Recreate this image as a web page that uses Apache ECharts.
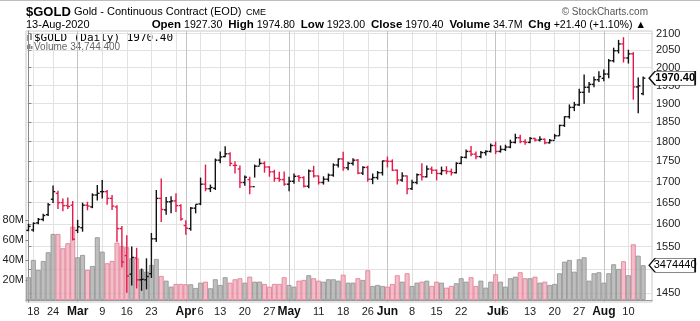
<!DOCTYPE html>
<html>
<head>
<meta charset="utf-8">
<script src="https://cdn.jsdelivr.net/npm/echarts@6.0.0/dist/echarts.min.js"></script>
<style>
html,body{margin:0;padding:0;background:#fff;}
#chart{width:700px;height:321px;}
</style>
</head>
<body>
<div id="chart"></div>
<script>
// ---------- data ----------
const dates = [
 '2/14','2/18','2/19','2/20','2/21','2/24','2/25','2/26','2/27','2/28',
 '3/2','3/3','3/4','3/5','3/6','3/9','3/10','3/11','3/12','3/13',
 '3/16','3/17','3/18','3/19','3/20','3/23','3/24','3/25','3/26','3/27','3/30','3/31',
 '4/1','4/2','4/3','4/6','4/7','4/8','4/9','4/13','4/14','4/15','4/16','4/17',
 '4/20','4/21','4/22','4/23','4/24','4/27','4/28','4/29','4/30',
 '5/1','5/4','5/5','5/6','5/7','5/8','5/11','5/12','5/13','5/14','5/15',
 '5/18','5/19','5/20','5/21','5/22','5/26','5/27','5/28','5/29',
 '6/1','6/2','6/3','6/4','6/5','6/8','6/9','6/10','6/11','6/12',
 '6/15','6/16','6/17','6/18','6/19','6/22','6/23','6/24','6/25','6/26','6/29','6/30',
 '7/1','7/2','7/6','7/7','7/8','7/9','7/10','7/13','7/14','7/15','7/16','7/17',
 '7/20','7/21','7/22','7/23','7/24','7/27','7/28','7/29','7/30','7/31',
 '8/3','8/4','8/5','8/6','8/7','8/10','8/11','8/12','8/13'
];
const opens = [
 1586,1587,1603,1611,1622,1658,1672,1650,1643,1644,
 1586,1592,1644,1640,1668,1676,1676,1660,1640,1590,
 1530,1490,1525,1478,1478,1491,1567,1660,1633,1652,1654,1643,
 1597,1590,1637,1647,1694,1683,1684,1753,1762,1769,1740,1731,
 1698,1705,1688,1738,1745,1736,1724,1708,1705,
 1694,1701,1713,1710,1689,1726,1714,1698,1706,1716,1741,
 1756,1734,1745,1753,1721,1735,1706,1710,1722,
 1751,1750,1728,1704,1714,1683,1698,1717,1712,1731,
 1728,1720,1727,1725,1722,1745,1760,1775,1768,1762,1772,1775,
 1790,1775,1780,1786,1798,1810,1800,1798,1808,1804,1806,1797,
 1803,1815,1842,1865,1890,1897,1931,1945,1953,1966,
 1970,1982,2020,2049,2069,2028,2040,1946,1927.3
];
const highs = [
 1601,1604,1614,1624,1649,1691,1678,1660,1662,1654,
 1610,1650,1652,1672,1692,1704,1680,1668,1644,1596,
 1575,1550,1547,1502,1524,1580,1680,1708,1663,1665,1672,1646,
 1609,1640,1646,1710,1742,1693,1757,1775,1788,1773,1750,1740,
 1715,1712,1742,1757,1750,1738,1729,1724,1725,
 1712,1720,1716,1713,1730,1739,1715,1713,1720,1745,1757,
 1774,1749,1758,1756,1738,1739,1720,1726,1752,
 1762,1755,1730,1723,1715,1705,1720,1745,1740,1737,
 1730,1737,1738,1732,1748,1763,1780,1789,1775,1776,1778,1795,
 1800,1790,1792,1805,1820,1818,1806,1812,1810,1814,1808,1807,
 1820,1844,1866,1898,1905,1941,1981,1960,1975,1990,
 1995,2025,2058,2081,2089,2052,2045,1972,1974.8
];
const lows = [
 1584,1583,1600,1607,1619,1649,1635,1630,1635,1563,
 1580,1583,1632,1637,1655,1660,1645,1633,1560,1504,
 1451,1466,1460,1455,1458,1482,1560,1605,1622,1625,1628,1608,
 1576,1585,1625,1644,1677,1675,1680,1745,1760,1738,1720,1685,
 1690,1670,1710,1740,1722,1712,1700,1700,1690,
 1677,1695,1700,1686,1684,1710,1693,1693,1700,1712,1735,
 1727,1728,1740,1718,1716,1700,1694,1705,1715,
 1735,1726,1693,1700,1670,1680,1694,1703,1710,1719,
 1703,1716,1718,1715,1720,1743,1757,1763,1755,1758,1765,1772,
 1768,1772,1776,1783,1795,1796,1792,1796,1800,1800,1793,1795,
 1806,1815,1838,1860,1880,1894,1900,1930,1945,1960,
 1962,1970,2015,2041,2015,2012,1911,1874,1923
];
const closes = [
 1595,1602,1611,1620,1645,1676,1650,1643,1641,1566,
 1594,1644,1642,1668,1672,1676,1660,1642,1590,1516,
 1486,1526,1478,1479,1485,1567,1660,1634,1652,1654,1643,1612,
 1591,1637,1646,1694,1683,1686,1753,1761,1769,1745,1740,1698,
 1711,1688,1738,1745,1736,1724,1708,1705,1694,
 1701,1713,1710,1689,1726,1714,1698,1706,1716,1741,1756,
 1734,1745,1753,1721,1735,1706,1710,1722,1751,
 1750,1728,1704,1714,1683,1698,1717,1712,1731,1728,
 1720,1727,1725,1722,1745,1760,1775,1768,1762,1772,1775,1790,
 1775,1780,1786,1798,1810,1800,1798,1808,1804,1806,1797,1803,
 1815,1842,1865,1890,1897,1931,1945,1953,1966,1975,
 1982,2020,2049,2069,2028,2040,1946,1949,1970.4
];
// volume in millions of contracts
const volumes = [
 22.7,40,30,39,47.7,66,66,51.7,56.7,73.3,
 42.7,45,30,34,62.7,48.3,36.7,39,57.3,54,
 52.7,41.7,41.7,30.7,28.3,35,41,24,19.3,13.3,16,16,
 15.7,15.7,12,17.3,18.3,11.7,20.7,15,22.7,17.3,20.7,21.7,
 17.3,23.3,18.3,18.3,16,13.3,16,16,22.7,
 15,13.3,19.3,20,24.7,21.7,19.3,18.3,20.7,20.7,19.3,
 25.3,17.3,17.3,21.7,20,29.7,14,15,14,
 13.3,16,24.7,18.3,26.7,14,17.3,18.3,19.3,14,
 18.3,17.3,12.3,14,16.7,21.7,18.3,22.7,14,19.3,12.3,18.3,
 25.7,18.3,13.3,21.7,23.3,27.7,21.7,21.7,23.3,17.3,18.3,15,
 16,26.7,38.3,40,28.3,40.7,42.7,19.3,26.7,27.7,
 17.3,26.7,35.7,31,38.7,24.7,55.7,44.3,34.7444
];
const priceTicks = [1450,1500,1550,1600,1650,1700,1750,1800,1850,1900,1950,2000,2050,2100];
const volumeTicks = [20,40,60,80];
const weekGridDates = ['2/18','2/24','3/2','3/9','3/16','3/23','3/30','4/6','4/13','4/20','4/27','5/4','5/11','5/18','5/26','6/1','6/8','6/15','6/22','6/29','7/6','7/13','7/20','7/27','8/3','8/10'];
const monthGridDates = ['3/2','4/1','5/1','6/1','7/1','8/3'];
const xLabelDates = ['2/18','2/24','3/2','3/9','3/16','3/23','4/1','4/6','4/13','4/20','4/27','5/1','5/11','5/18','5/26','6/1','6/8','6/15','6/22','7/1','7/6','7/13','7/20','7/27','8/3','8/10'];
const xLabelTexts = ['18','24','Mar','9','16','23','Apr','6','13','20','27','May','11','18','26','Jun','8','15','22','Jul','6','13','20','27','Aug','10'];
const monthNames = ['Mar','Apr','May','Jun','Jul','Aug'];
const lastClose = 1970.40;
const lastVolume = 34744400;

// ---------- build ----------
const FONT = '"Liberation Sans", Arial, sans-serif';
const idx = d => dates.indexOf(d);
const isUp = closes.map((c, i) => i === 0 ? true : c >= closes[i - 1]);
const ohlc = dates.map((d, i) => [i, Math.log(opens[i]), Math.log(highs[i]), Math.log(lows[i]), Math.log(closes[i]), isUp[i] ? 1 : 0]);
const volData = dates.map((d, i) => ({
  value: [i, volumes[i]],
  itemStyle: isUp[i]
    ? { color: 'rgba(172,172,172,0.78)', borderColor: '#8f8f8f', borderWidth: 0.8 }
    : { color: 'rgba(238,165,180,0.72)', borderColor: '#e07a90', borderWidth: 0.8 }
}));
const labelMap = {};
xLabelDates.forEach((d, k) => { labelMap[idx(d)] = xLabelTexts[k]; });
const weekIdx = weekGridDates.map(idx);
const monthIdx = monthGridDates.map(idx);
const xLabelIdx = xLabelDates.map(idx);
const X_MIN = -0.5, X_MAX = dates.length + 0.8;
const P_MIN = Math.log(1432), P_MAX = Math.log(2107.5);
const TAG = 'path://M0,7L6,0L46,0L46,14L6,14Z';

const chart = echarts.init(document.getElementById('chart'), null, { renderer: 'canvas' });
chart.setOption({
  animation: false,
  backgroundColor: '#fff',
  grid: { left: 26, right: 48, top: 31, bottom: 19, show: true, borderColor: '#c8c8c8', borderWidth: 1, outerBoundsMode: 'none' },
  xAxis: [
    {
      type: 'value', min: X_MIN, max: X_MAX, gridIndex: 0,
      axisLine: { show: true, lineStyle: { color: '#9a9a9a' } },
      axisTick: { show: false, customValues: weekIdx },
      splitLine: { show: true, lineStyle: { color: '#e2e2e2', width: 1 } },
      axisLabel: {
        show: true, customValues: xLabelIdx, hideOverlap: false, margin: 4,
        color: '#222', fontSize: 11, fontFamily: FONT,
        formatter: v => { const t = labelMap[Math.round(v)] || ''; return monthNames.includes(t) ? '{m|' + t + '}' : t; },
        rich: { m: { fontWeight: 'bold', fontSize: 12, fontFamily: FONT, color: '#111' } }
      }
    },
    {
      type: 'value', min: X_MIN, max: X_MAX, gridIndex: 0, position: 'bottom',
      axisLine: { show: false }, axisLabel: { show: false },
      axisTick: { show: false, customValues: monthIdx },
      splitLine: { show: true, lineStyle: { color: '#c4c4c4', width: 1 } }
    }
  ],
  yAxis: [
    {
      type: 'value', min: P_MIN, max: P_MAX, position: 'right', gridIndex: 0,
      axisLine: { show: true, lineStyle: { color: '#888' } },
      axisTick: { show: true, length: 3, customValues: priceTicks.map(Math.log), lineStyle: { color: '#888' } },
      splitLine: { show: true, lineStyle: { color: '#e2e2e2' } },
      axisLabel: {
        customValues: priceTicks.map(Math.log), margin: 4, color: '#222', fontSize: 11, fontFamily: FONT,
        formatter: v => String(Math.round(Math.exp(v)))
      }
    },
    {
      type: 'value', min: -2, max: 269, position: 'left', gridIndex: 0,
      axisLine: { show: false },
      axisTick: { show: true, length: 3, inside: false, customValues: volumeTicks, lineStyle: { color: '#888' } },
      splitLine: { show: false },
      axisLabel: {
        customValues: volumeTicks, margin: 2, color: '#222', fontSize: 11, fontFamily: FONT,
        formatter: v => v + 'M'
      }
    }
  ],
  series: [
    {
      type: 'bar', name: 'Volume', xAxisIndex: 0, yAxisIndex: 1,
      barWidth: 4.9, data: volData, z: 2
    },
    {
      type: 'custom', name: '$GOLD', xAxisIndex: 1, yAxisIndex: 0, clip: true, z: 3,
      data: ohlc,
      renderItem: (params, api) => {
        const x = api.value(0);
        const o = api.coord([x, api.value(1)]);
        const h = api.coord([x, api.value(2)]);
        const l = api.coord([x, api.value(3)]);
        const c = api.coord([x, api.value(4)]);
        const col = api.value(5) ? '#111' : '#e3194b';
        const st = { stroke: col, lineWidth: 1.4 };
        return {
          type: 'group',
          children: [
            { type: 'line', shape: { x1: h[0], y1: h[1], x2: l[0], y2: l[1] }, style: st },
            { type: 'line', shape: { x1: o[0] - 2.2, y1: o[1], x2: o[0], y2: o[1] }, style: st },
            { type: 'line', shape: { x1: c[0], y1: c[1], x2: c[0] + 2.2, y2: c[1] }, style: st }
          ]
        };
      }
    },
    {
      type: 'scatter', name: 'lastPrice', xAxisIndex: 1, yAxisIndex: 0, clip: false, z: 10,
      data: [[dates.length - 1, Math.log(lastClose)]],
      symbol: TAG, symbolSize: [46, 14], symbolOffset: [29, 0],
      itemStyle: { color: '#fff', borderColor: '#111', borderWidth: 1, opacity: 1 },
      label: { show: true, position: 'inside', offset: [3, 0], formatter: lastClose.toFixed(2), fontWeight: 'bold', fontSize: 11, fontFamily: FONT, color: '#000' },
      silent: true
    },
    {
      type: 'scatter', name: 'lastVolume', xAxisIndex: 0, yAxisIndex: 1, clip: false, z: 10,
      data: [[dates.length - 1, lastVolume / 1e6]],
      symbol: TAG, symbolSize: [46, 14], symbolOffset: [29, 0],
      itemStyle: { color: '#fff', borderColor: '#111', borderWidth: 1, opacity: 1 },
      label: { show: true, position: 'inside', offset: [3, 0], formatter: String(lastVolume), width: 44, overflow: 'truncate', ellipsis: '', fontSize: 11, fontFamily: FONT, color: '#000' },
      silent: true
    }
  ],
  graphic: [
    { type: 'rect', shape: { x: 0, y: 0, width: 700, height: 1 }, style: { fill: '#bdbdbd' }, silent: true },
    { type: 'text', x: 26, y: 12, style: { text: '$GOLD', font: 'bold 13px ' + FONT, fill: '#000', verticalAlign: 'middle' } },
    { type: 'text', x: 74, y: 12, style: { text: 'Gold - Continuous Contract (EOD)', font: '11px ' + FONT, fill: '#000', verticalAlign: 'middle' } },
    { type: 'text', x: 246, y: 12.5, style: { text: 'CME', font: '9px ' + FONT, fill: '#000', verticalAlign: 'middle' } },
    { type: 'text', x: 648, y: 12, style: { text: '\u00a9 StockCharts.com', font: '10px ' + FONT, fill: '#555', align: 'right', verticalAlign: 'middle' } },
    { type: 'text', x: 26, y: 25, style: { text: '13-Aug-2020', font: '11px ' + FONT, fill: '#000', verticalAlign: 'middle' } },
    { type: 'text', x: 646, y: 25, style: {
        text: '{b|Open} 1927.30  {b|High} 1974.80  {b|Low} 1923.00  {b|Close} 1970.40  {b|Volume} 34.7M  {b|Chg} +21.40 (+1.10%) \u25b2',
        font: '10.6px ' + FONT, fill: '#000', align: 'right', verticalAlign: 'middle',
        rich: { b: { font: 'bold 11.5px ' + FONT, fill: '#000' } }
      } },
    { type: 'text', x: 34, y: 38, style: { text: '$GOLD (Daily) 1970.40', font: '11px "DejaVu Sans Mono", monospace', fill: '#000', verticalAlign: 'middle' } },
    { type: 'text', x: 34, y: 47, style: { text: 'Volume 34,744,400', font: '10px ' + FONT, fill: '#666', verticalAlign: 'middle' } },
    { type: 'polyline', shape: { points: [[28, 35], [28, 41]] }, style: { stroke: '#333', lineWidth: 1 } },
    { type: 'polyline', shape: { points: [[31, 34], [31, 40]] }, style: { stroke: '#333', lineWidth: 1 } },
    { type: 'rect', shape: { x: 27, y: 45, width: 1.5, height: 4 }, style: { fill: '#888' } },
    { type: 'rect', shape: { x: 29, y: 44, width: 1.5, height: 5 }, style: { fill: '#888' } },
    { type: 'rect', shape: { x: 31, y: 46, width: 1.5, height: 3 }, style: { fill: '#888' } }
  ]
});
</script>
</body>
</html>
